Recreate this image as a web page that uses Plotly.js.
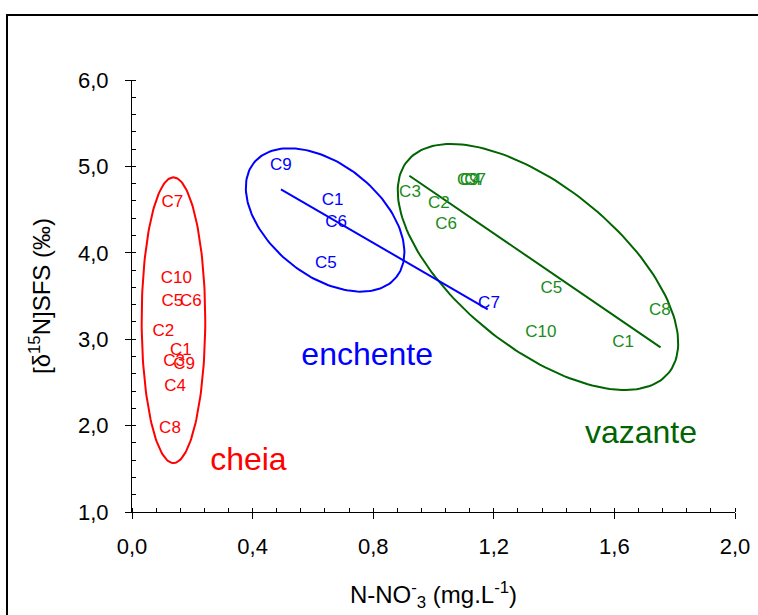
<!DOCTYPE html>
<html>
<head>
<meta charset="utf-8">
<script src="https://cdn.plot.ly/plotly-3.0.1.min.js"></script>
<style>
  html, body { margin: 0; padding: 0; background: #fff; overflow: hidden; }
  #chart { width: 758px; height: 615px; }
</style>
</head>
<body>
<div id="chart"></div>
<script>
// ---- Data ----
// cheia (red)
const cheiaLabels = ['C7', 'C10', 'C5', 'C6', 'C2', 'C1', 'C3', 'C9', 'C4', 'C8'];
const cheiaX      = [0.134, 0.147, 0.134, 0.195, 0.104, 0.162, 0.140, 0.173, 0.143, 0.126];
const cheiaY      = [4.58, 3.70, 3.43, 3.43, 3.09, 2.87, 2.74, 2.70, 2.45, 1.96];
// ellipse: centre (x, y), semi-axis vector U (x, y), semi-axis vector V (x, y)
const cheiaEllipse = [0.1375, 3.22, 0.1055, 0.0, 0.0, 1.653];

// enchente (blue)
const enchLabels = ['C9', 'C1', 'C6', 'C5', 'C7'];
const enchX      = [0.494, 0.665, 0.677, 0.643, 1.184];
const enchY      = [5.01, 4.60, 4.35, 3.87, 3.41];
const enchLineX  = [0.494, 1.180];
const enchLineY  = [4.735, 3.346];
const enchEllipse = [0.6405, 4.380, 0.2362, -0.662, -0.1156, -0.500];

// vazante (green)
const vazLabels = ['C3', 'C2', 'C6', 'C9', 'C4', 'C7', 'C5', 'C10', 'C1', 'C8'];
const vazX      = [0.922, 1.018, 1.042, 1.114, 1.123, 1.138, 1.391, 1.356, 1.629, 1.751];
const vazY      = [4.69, 4.57, 4.33, 4.83, 4.83, 4.83, 3.58, 3.08, 2.96, 3.33];
const vazLineX  = [0.920, 1.753];
const vazLineY  = [4.892, 2.906];
const vazEllipse = [1.3465, 3.836, 0.4336, -1.2257, -0.1684, -0.7234];

// group names and positions
const groupNames = ['cheia', 'enchente', 'vazante'];
const groupNameX = [0.386, 0.780, 1.688];
const groupNameY = [1.58, 2.79, 1.89];

// axes
const xTicks = [0, 0.4, 0.8, 1.2, 1.6, 2.0];
const yTicks = [1, 2, 3, 4, 5, 6];

// ---- styling ----
const RED = '#ff0000', BLUE = '#0000ff', GREEN_LBL = '#1a8c1a', GREEN = '#006400';
const FONT = 'Liberation Sans, Arial, sans-serif';

function ellipseTrace(p, color) {
  const xs = [], ys = [];
  const n = 180;
  for (let i = 0; i <= n; i++) {
    const t = 2 * Math.PI * i / n;
    xs.push(p[0] + p[2] * Math.cos(t) + p[4] * Math.sin(t));
    ys.push(p[1] + p[3] * Math.cos(t) + p[5] * Math.sin(t));
  }
  return { x: xs, y: ys, mode: 'lines', line: { color: color, width: 2 },
           hoverinfo: 'skip', showlegend: false, cliponaxis: false };
}
function labelTrace(xs, ys, txt, color) {
  return { x: xs, y: ys, text: txt, mode: 'text', textposition: 'middle center',
           textfont: { family: FONT, size: 17, color: color },
           showlegend: false, cliponaxis: false };
}
function lineTrace(xs, ys, color) {
  return { x: xs, y: ys, mode: 'lines', line: { color: color, width: 2 },
           hoverinfo: 'skip', showlegend: false };
}

const traces = [
  ellipseTrace(cheiaEllipse, RED),
  ellipseTrace(enchEllipse, BLUE),
  ellipseTrace(vazEllipse, GREEN),
  lineTrace(enchLineX, enchLineY, BLUE),
  lineTrace(vazLineX, vazLineY, GREEN),
  labelTrace(cheiaX, cheiaY, cheiaLabels, RED),
  labelTrace(enchX, enchY, enchLabels, BLUE),
  labelTrace(vazX, vazY, vazLabels, GREEN_LBL),
  { x: groupNameX, y: groupNameY, text: groupNames, mode: 'text',
    textposition: 'middle center',
    textfont: { family: FONT, size: 32, color: [RED, BLUE, GREEN] },
    showlegend: false, cliponaxis: false }
];

const axisCommon = {
  showgrid: false, zeroline: false, showline: true, linecolor: '#000', linewidth: 1,
  ticks: 'outside', ticklen: 6, tickwidth: 1, tickcolor: '#000',
  tickformat: '.1f', tickmode: 'array',
  tickfont: { family: FONT, size: 22, color: '#000' }
};

const layout = {
  width: 758, height: 615,
  margin: { l: 132, r: 23, t: 80, b: 103 },
  paper_bgcolor: '#fff', plot_bgcolor: '#fff',
  separators: ',.',
  showlegend: false,
  font: { family: FONT, color: '#000' },
  xaxis: Object.assign({}, axisCommon, {
    range: [0, 2], tickvals: xTicks,
    ticklabelstandoff: 9,
    minor: { dtick: 0.08, tick0: 0, ticks: 'inside', ticklen: 4, tickwidth: 1, tickcolor: '#000', showgrid: false },
    title: { text: 'N-NO<sup>-</sup><sub>3</sub> (mg.L<sup>-1</sup>)',
             font: { family: FONT, size: 24, color: '#000' }, standoff: 27 }
  }),
  yaxis: Object.assign({}, axisCommon, {
    range: [1, 6], tickvals: yTicks,
    ticklabelstandoff: 12,
    minor: { dtick: 0.2, tick0: 1, ticks: 'inside', ticklen: 4, tickwidth: 1, tickcolor: '#000', showgrid: false },
    title: { text: '[δ<sup>15</sup>N]SFS (‰)',
             font: { family: FONT, size: 24, color: '#000' }, standoff: 20 }
  }),
  shapes: [
    { type: 'rect', xref: 'paper', yref: 'paper',
      x0: -0.2073, x1: 1.5, y0: -0.6, y1: 1.1505,
      line: { color: '#000', width: 2 }, fillcolor: 'rgba(0,0,0,0)', layer: 'above' }
  ]
};

Plotly.newPlot('chart', traces, layout, { displayModeBar: false, staticPlot: true });
</script>
</body>
</html>
